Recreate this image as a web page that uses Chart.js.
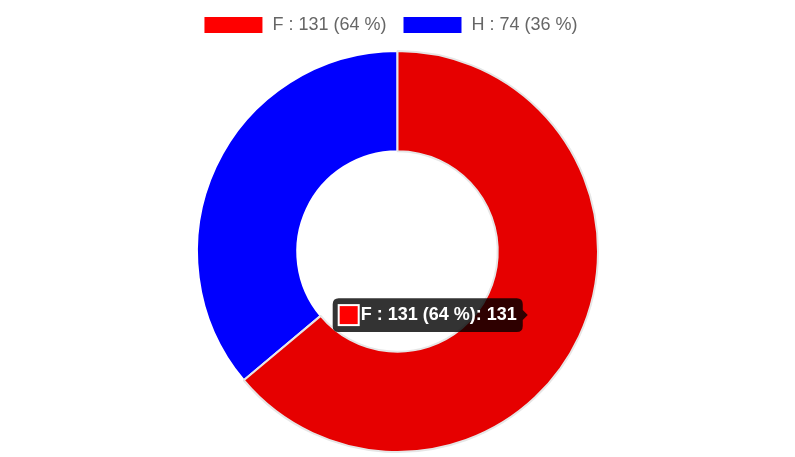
<!DOCTYPE html>
<html>
<head>
<meta charset="utf-8">
<script src="https://cdn.jsdelivr.net/npm/chart.js@4/dist/chart.umd.min.js"></script>
<style>
  html, body { margin: 0; padding: 0; background: #fff; }
  #wrap { width: 795px; height: 457px; }
</style>
</head>
<body>
<div id="wrap"><canvas id="grafico"></canvas></div>
<script>
var etiquetas = ["F : 131 (64 %)", "H : 74 (36 %)"];
var valores = [131, 74];
var colores = ["#FF0000", "#0000FF"];

Chart.defaults.font.family = "'Liberation Sans', Arial, Helvetica, sans-serif";
Chart.defaults.color = "#666";

// deja mas espacio bajo la leyenda y la corre un poco a la izquierda
var margenLeyenda = {
    id: "margenLeyenda",
    beforeInit: function (chart) {
        var fitOriginal = chart.legend.fit;
        chart.legend.fit = function () {
            fitOriginal.bind(chart.legend)();
            this.height += 6;
            if (this.lineWidths && this.lineWidths.length) {
                this.lineWidths[0] += 14;
            }
        };
    }
};

var datos = {
    type: "doughnut",
    data: {
        labels: etiquetas,
        datasets: [{
            data: valores,
            backgroundColor: colores
        }]
    },
    options: {
        responsive: true,
        maintainAspectRatio: false,
        animation: false,
        layout: { padding: { bottom: 4 } },
        plugins: {
            legend: {
                position: "top",
                labels: {
                    boxWidth: 60,
                    padding: 16,
                    font: { size: 18 }
                }
            },
            tooltip: {
                bodyFont: { size: 18, weight: "bold" },
                padding: 6,
                caretPadding: 6,
                boxWidth: 20,
                boxHeight: 20,
                callbacks: {
                    title: function () { return []; },
                    label: function (ctx) { return ctx.label + ": " + ctx.formattedValue; }
                }
            }
        }
    },
    plugins: [margenLeyenda]
};

var canvas = document.getElementById("grafico").getContext("2d");
window.dona = new Chart(canvas, datos);

var activo = [{ datasetIndex: 0, index: 0 }];
window.dona.setActiveElements(activo);
window.dona.tooltip.setActiveElements(activo, { x: 0, y: 0 });
window.dona.update();
</script>
</body>
</html>
